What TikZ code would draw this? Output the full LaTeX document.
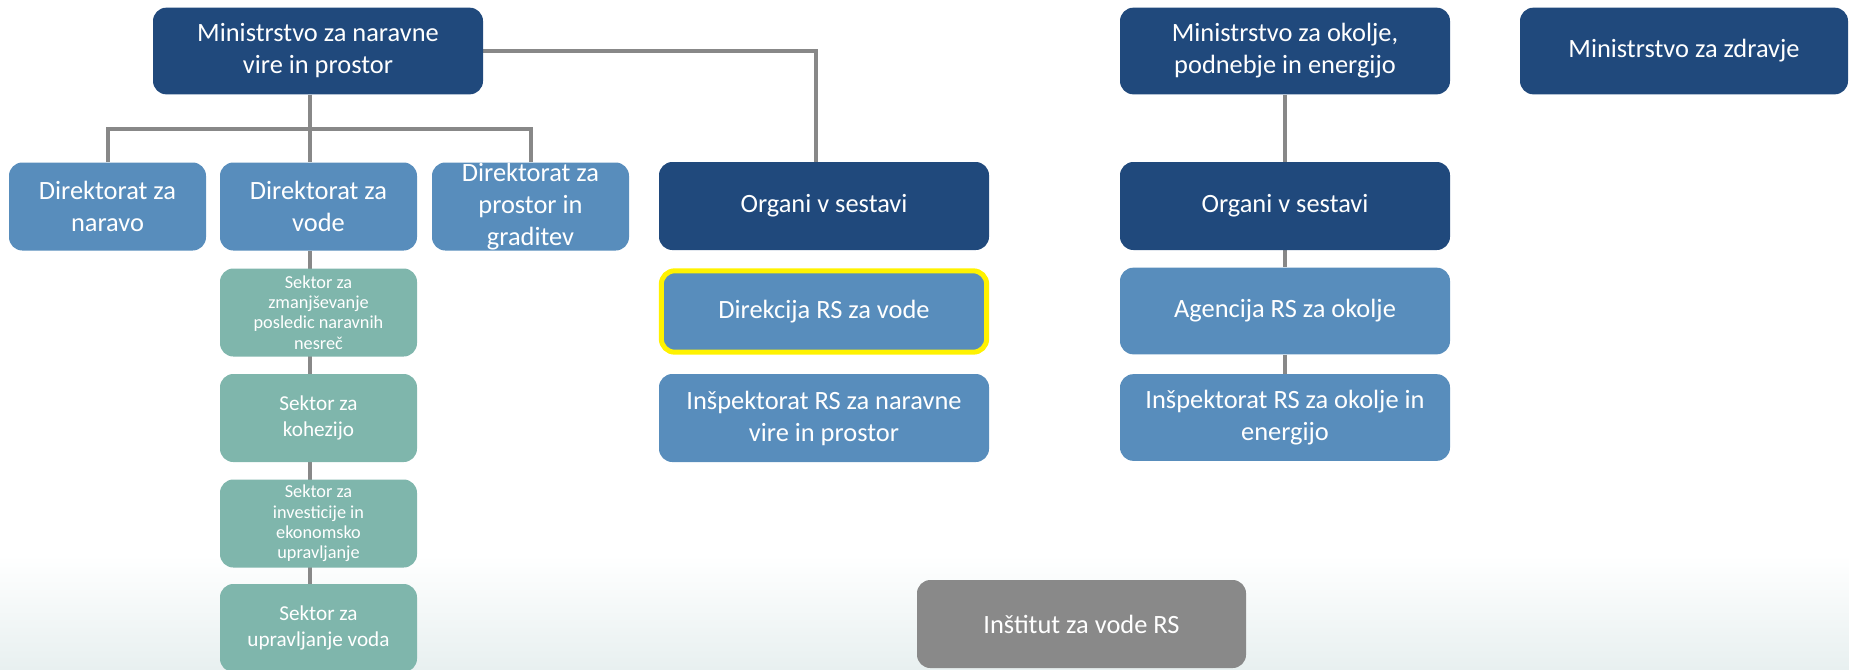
\documentclass[tikz,border=0pt]{standalone}
\usepackage{fontspec}
\setmainfont{Carlito}
\usetikzlibrary{backgrounds}
\definecolor{navy}{RGB}{32,73,124}
\definecolor{midblue}{RGB}{88,141,188}
\definecolor{teal}{RGB}{127,182,172}
\definecolor{boxgray}{RGB}{137,137,137}
\definecolor{linegray}{RGB}{136,136,136}
\definecolor{floor}{RGB}{232,240,240}
\tikzset{
    box/.style={rounded corners=10pt, text=white, align=center, inner sep=0pt,
        font=\fontsize{19.8}{24}\selectfont},
    wide/.style={box, minimum width=247.5pt, minimum height=65pt},
    narrow/.style={box, minimum width=147.75pt, minimum height=66pt},
    sektor/.style={narrow, fill=teal, font=\fontsize{13.7}{15.3}\selectfont},
    sektorbig/.style={narrow, fill=teal, font=\fontsize{15.9}{19}\selectfont},
    link/.style={draw=linegray, line width=3pt},
}
\begin{document}
\begin{tikzpicture}[x=0.75pt, y=-0.75pt]
    \useasboundingbox (0,0) rectangle (1849,669);
    \clip (0,0) rectangle (1849,669);

    \node[wide, fill=navy] (mnvp) at (318,51) {Ministrstvo za naravne\\vire in prostor};
    \node[narrow, fill=midblue] (dnar) at (107.5,206.5) {Direktorat za\\naravo};
    \node[narrow, fill=midblue] (dvod) at (318.5,206.5) {Direktorat za\\vode};
    \node[narrow, fill=midblue] (dpro) at (530.5,206.5) {Direktorat za\\prostor in\\graditev};
    \node[wide, fill=navy, minimum height=66pt] (orgl) at (824,206) {Organi v sestavi};
    \node[wide, fill=midblue, draw=yellow, line width=3.75pt, minimum width=244pt,
        minimum height=61pt] (drsv) at (824,311.5) {Direkcija RS za vode};
    \node[wide, fill=midblue, minimum height=66pt] (inap) at (824,418) {Inšpektorat RS za naravne\\vire in prostor};

    \node[sektor] (snes) at (318.5,312.5) {Sektor za\\zmanjševanje\\posledic naravnih\\nesreč};
    \node[sektorbig] (skoh) at (318.5,418) {Sektor za\\kohezijo};
    \node[sektor] (sinv) at (318.5,523.5) {Sektor za\\investicije in\\ekonomsko\\upravljanje};
    \node[sektorbig] (supr) at (318.5,628) {Sektor za\\upravljanje voda};

    \node[wide, fill=boxgray, minimum width=246.75pt, minimum height=66pt] (izvr) at (1081.5,624) {Inštitut za vode RS};

    \node[wide, fill=navy] (mope) at (1285,51) {Ministrstvo za okolje,\\podnebje in energijo};
    \node[wide, fill=navy, minimum height=66pt] (orgr) at (1285,206) {Organi v sestavi};
    \node[wide, fill=midblue] (arso) at (1285,311) {Agencija RS za okolje};
    \node[wide, fill=midblue] (iope) at (1285,417.5) {Inšpektorat RS za okolje in\\energijo};
    \node[wide, fill=navy, minimum width=246pt] (mzdr) at (1684,51) {Ministrstvo za zdravje};

    \begin{scope}[on background layer]
        \shade[top color=white, bottom color=floor] (0,555) rectangle (1849,669);
        \coordinate (bus) at (310,129);
        \draw[link] (mnvp.south -| bus) -- (dvod.north -| bus);
        \draw[link] (dnar) |- (bus) -| (dpro);
        \draw[link] (mnvp) -| ([xshift=-6pt]orgl.north);
        \draw[link] (dvod.south -| bus) -- (supr.north -| bus);
        \draw[link] (mope) -- (orgr) -- (arso) -- (iope);
    \end{scope}
\end{tikzpicture}
\end{document}
